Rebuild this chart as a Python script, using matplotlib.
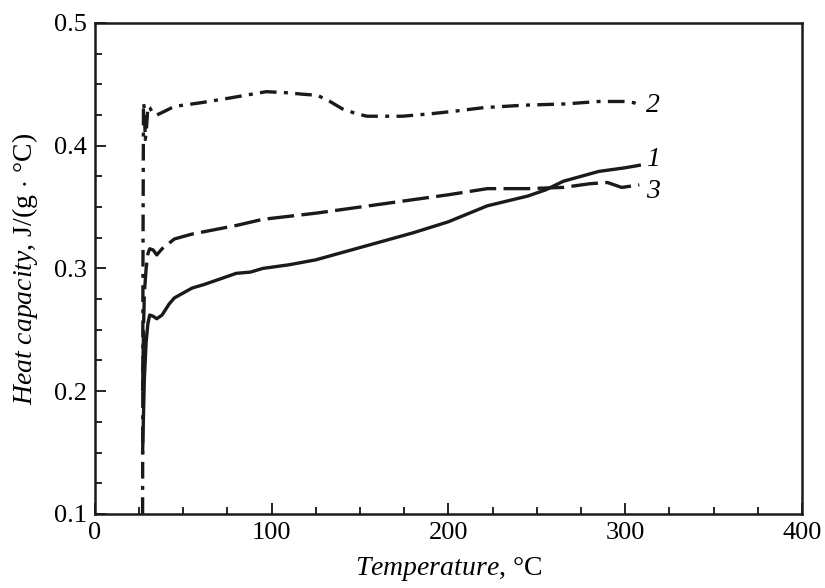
import matplotlib
matplotlib.use("Agg")
import matplotlib.pyplot as plt
from matplotlib.ticker import MultipleLocator

plt.rcParams['font.family'] = ['Liberation Serif', 'DejaVu Serif']
plt.rcParams['mathtext.fontset'] = 'custom'
plt.rcParams['mathtext.rm'] = 'Liberation Serif'
plt.rcParams['mathtext.it'] = 'Liberation Serif:italic'

# curve 1 (solid)
t1 = [27, 27.5, 28, 29, 30, 31, 33, 35, 38, 42, 45, 50, 55, 62, 70, 80, 88, 95,
      110, 125, 140, 155, 180, 200, 222, 245, 255, 265, 285, 300, 308]
c1 = [0.15, 0.18, 0.21, 0.24, 0.255, 0.262, 0.261, 0.259, 0.262, 0.271, 0.276, 0.280, 0.284,
      0.287, 0.291, 0.296, 0.297, 0.300, 0.303, 0.307, 0.313, 0.319, 0.329, 0.338,
      0.351, 0.359, 0.364, 0.371, 0.379, 0.382, 0.384]

# curve 2 (dash-dot)
t2 = [27, 27.2, 27.5, 28, 28.5, 29, 30, 31, 33, 35, 38, 45, 60, 77, 97, 110, 117, 126,
      133, 140, 148, 154, 165, 174, 190, 203, 220, 243, 266, 285, 300, 305, 308]
c2 = [0.10, 0.30, 0.435, 0.43, 0.405, 0.41, 0.432, 0.431, 0.426, 0.425, 0.427, 0.432, 0.435, 0.439,
      0.444, 0.443, 0.442, 0.441, 0.436, 0.430, 0.426, 0.424, 0.424, 0.424, 0.426, 0.428,
      0.431, 0.433, 0.434, 0.436, 0.436, 0.435, 0.433]

# curve 3 (long dashes)
t3 = [27, 27.5, 28, 29, 30, 31, 33, 35, 38, 45, 55, 80, 95, 125, 150, 175, 200, 222,
      245, 265, 280, 290, 298, 308]
c3 = [0.20, 0.25, 0.28, 0.30, 0.312, 0.316, 0.315, 0.311, 0.316, 0.324, 0.328, 0.335, 0.340,
      0.345, 0.350, 0.355, 0.360, 0.365, 0.365, 0.366, 0.369, 0.370, 0.366, 0.368]

fig = plt.figure(figsize=(8.25, 5.88), dpi=100)
ax = fig.add_axes([0.115, 0.126, 0.857, 0.835])

ax.plot(t1, c1, color='#1a1a1a', lw=2.4, linestyle='-')
ax.plot(t2, c2, color='#1a1a1a', lw=2.4, linestyle=(0, (5, 2.2, 1.2, 2.2)))
ax.plot(t3, c3, color='#1a1a1a', lw=2.4, linestyle=(0, (8, 2.2)))

ax.text(t2[-1] + 4, 0.433, '2', fontsize=20, style='italic', va='center')
ax.text(t1[-1] + 4, 0.389, '1', fontsize=20, style='italic', va='center')
ax.text(t3[-1] + 4, 0.363, '3', fontsize=20, style='italic', va='center')

ax.set_xlim(0, 400)
ax.set_ylim(0.1, 0.5)
ax.xaxis.set_major_locator(MultipleLocator(100))
ax.xaxis.set_minor_locator(MultipleLocator(25))
ax.yaxis.set_major_locator(MultipleLocator(0.1))
ax.yaxis.set_minor_locator(MultipleLocator(0.025))
ax.tick_params(which='both', direction='in', labelsize=19, width=1.2)
ax.tick_params(which='major', length=8, pad=6)
ax.tick_params(which='minor', length=5)
for s in ax.spines.values():
    s.set_linewidth(1.8)
    s.set_color('#1a1a1a')

ax.set_xlabel(r'$Temperature$, °C', fontsize=20, labelpad=8)
ax.set_ylabel(r'$Heat\ capacity$, J/(g$\,\cdot\,$°C)', fontsize=20, labelpad=10)

fig.savefig('out.png', dpi=100)
